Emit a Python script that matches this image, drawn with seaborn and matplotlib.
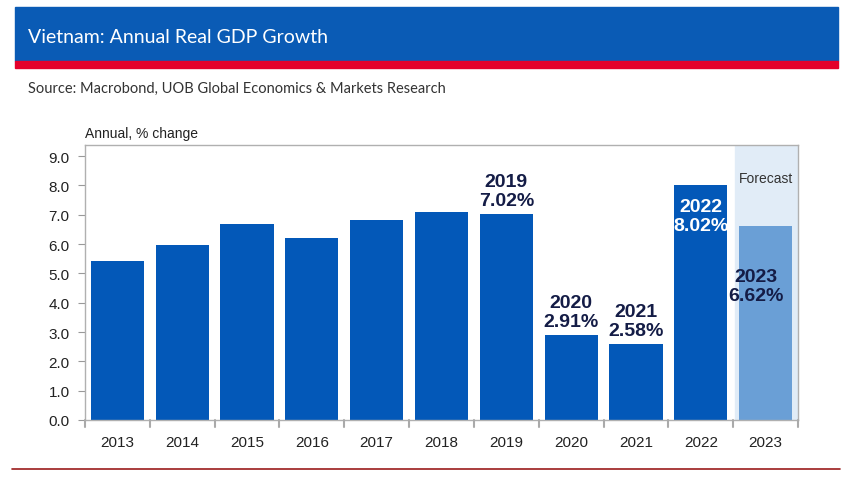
import matplotlib
matplotlib.use('Agg')
import matplotlib.pyplot as plt
import seaborn as sns
import pandas as pd

# data
years = ['2013', '2014', '2015', '2016', '2017', '2018', '2019', '2020', '2021', '2022', '2023']
growth = [5.42, 5.98, 6.68, 6.21, 6.81, 7.08, 7.02, 2.91, 2.58, 8.02, 6.62]
labelled = {'2019': 7.02, '2020': 2.91, '2021': 2.58, '2022': 8.02, '2023': 6.62}
forecast_year = '2023'

df = pd.DataFrame({'year': years, 'growth': growth})

sns.set_style('white')
plt.rcParams['font.family'] = ['Liberation Sans', 'DejaVu Sans']

fig = plt.figure(figsize=(8.5, 4.85), dpi=100)

# header band
fig.patches.append(plt.Rectangle((15/850, 1-62/485), 823/850, 54/485, transform=fig.transFigure,
                                 color='#0a5bb5', zorder=0))
fig.patches.append(plt.Rectangle((15/850, 1-69/485), 823/850, 7/485, transform=fig.transFigure,
                                 color='#e4002b', zorder=0))
fig.text(28/850, 1-38/485, 'Vietnam: Annual Real GDP Growth', color='white', fontsize=14,
         family='Lato', va='center')
fig.text(28/850, 1-89/485, 'Source: Macrobond, UOB Global Economics & Markets Research', color='#333333',
         fontsize=10.5, family='Lato', va='center')
# bottom rule
fig.add_artist(plt.Line2D([12/850, 840/850], [1-470/485, 1-470/485], color='#9b1b1b', lw=1.2))

ax = fig.add_axes([85/850, 1-421/485, 713/850, 275/485])
colors = ['#6a9fd6' if y == forecast_year else '#0358b8' for y in years]
sns.barplot(data=df, x='year', y='growth', hue='year', palette=colors, legend=False,
            width=0.82, saturation=1, linewidth=0, ax=ax, zorder=2)

# forecast shade
i_fc = years.index(forecast_year)
ax.axvspan(i_fc - 0.47, len(years) - 0.5, color='#e1ecf7', zorder=0)
ax.text(i_fc, 8.25, 'Forecast', ha='center', va='center', fontsize=10, color='#333333')

ax.set_xlim(-0.5, len(years) - 0.5)
ax.set_ylim(0, 9.38)
ax.set_yticks([i * 1.0 for i in range(10)])
ax.set_yticklabels([f'{i:.1f}' for i in range(10)], fontsize=11, color='#222222')
ax.tick_params(axis='x', labelsize=11, labelcolor='#222222', length=0, pad=11)
ax.tick_params(axis='y', left=True, length=5, color='#999999', pad=6)
ax.set_xlabel('')
ax.set_ylabel('')
for s in ax.spines.values():
    s.set_color('#b0b0b0')
    s.set_linewidth(1)
# category separator ticks below axis
for k in range(len(years) + 1):
    ax.plot([k - 0.5, k - 0.5], [0, -0.25], color='#aaaaaa', lw=1.5, clip_on=False, zorder=3)

ax.text(0 - 0.5, 9.55, 'Annual, % change', fontsize=10, color='#222222', va='bottom')

# annotations
navy = '#141c46'
for y, v in labelled.items():
    i = years.index(y)
    txt = f'{y}\n{v:.2f}%'
    if y == '2022':
        ax.text(i, v - 0.45, txt, ha='center', va='top', fontsize=14, fontweight='bold',
                color='white', linespacing=1.15)
    elif y == '2023':
        ax.text(i - 0.15, v - 2.05, txt, ha='center', va='center', fontsize=14, fontweight='bold',
                color=navy, linespacing=1.15)
    else:
        ax.text(i, v + 0.17, txt, ha='center', va='bottom', fontsize=14, fontweight='bold',
                color=navy, linespacing=1.15)

fig.savefig('out.png', dpi=100)
